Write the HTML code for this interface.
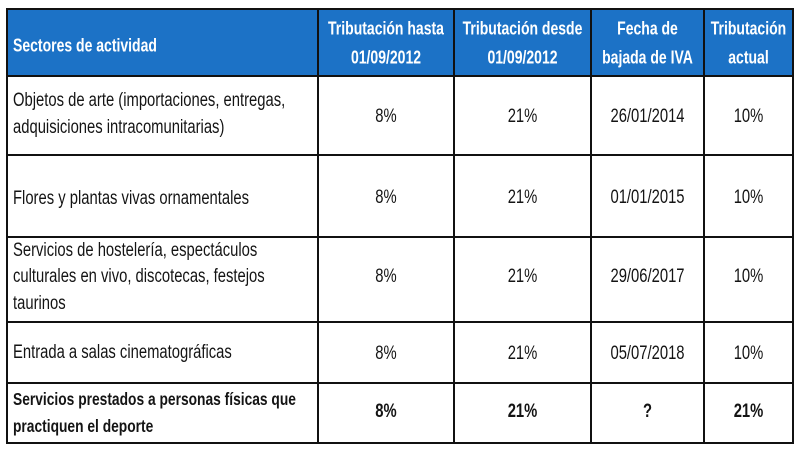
<!DOCTYPE html>
<html>
<head>
<meta charset="utf-8">
<style>
  html, body { margin:0; padding:0; }
  body { width:800px; height:450px; position:relative; background:#fff; overflow:hidden;
         font-family:"Liberation Sans", Arial, sans-serif; }
  svg { position:absolute; left:0; top:0; }
  .t { position:absolute; white-space:nowrap; height:20px; line-height:20px;
       transform:scaleY(1.3); transform-origin:center center; color:#141414; font-size:14.8px; }
  .h { color:#fff; font-weight:bold; font-size:14px; }
  .c { text-align:center; }
  .b { font-weight:bold; }
</style>
</head>
<body>
<svg width="800" height="450" viewBox="0 0 800 450">
  <rect x="7" y="9" width="786" height="67" fill="#1c72c6"/>
  <g stroke="#111" stroke-width="2" fill="none" stroke-linecap="square">
    <rect x="7" y="9" width="786" height="434"/>
    <line x1="7" y1="76" x2="793" y2="76"/>
    <line x1="7" y1="155" x2="793" y2="155"/>
    <line x1="7" y1="237" x2="793" y2="237"/>
    <line x1="7" y1="322" x2="793" y2="322"/>
    <line x1="7" y1="383" x2="793" y2="383"/>
    <line x1="318" y1="9" x2="318" y2="443"/>
    <line x1="454" y1="9" x2="454" y2="443"/>
    <line x1="591" y1="9" x2="591" y2="443"/>
    <line x1="704" y1="9" x2="704" y2="443"/>
  </g>
</svg>

<!-- Header -->
<div class="t h" style="left:13px; top:35px;">Sectores de actividad</div>
<div class="t h c" style="left:318px; width:136px; top:18px;">Tributación hasta</div>
<div class="t h c" style="left:318px; width:136px; top:47px;">01/09/2012</div>
<div class="t h c" style="left:454px; width:137px; top:18px;">Tributación desde</div>
<div class="t h c" style="left:454px; width:137px; top:47px;">01/09/2012</div>
<div class="t h c" style="left:591px; width:113px; top:18px;">Fecha de</div>
<div class="t h c" style="left:591px; width:113px; top:47px;">bajada de IVA</div>
<div class="t h c" style="left:704px; width:89px; top:18px;">Tributación</div>
<div class="t h c" style="left:704px; width:89px; top:47px;">actual</div>

<!-- Row 1 -->
<div class="t" style="left:13px; top:91px;">Objetos de arte (importaciones, entregas,</div>
<div class="t" style="left:13px; top:118px;">adquisiciones intracomunitarias)</div>
<div class="t c" style="left:318px; width:136px; top:107px;">8%</div>
<div class="t c" style="left:454px; width:137px; top:107px;">21%</div>
<div class="t c" style="left:591px; width:113px; top:107px;">26/01/2014</div>
<div class="t c" style="left:704px; width:89px; top:107px;">10%</div>

<!-- Row 2 -->
<div class="t" style="left:13px; top:189px;">Flores y plantas vivas ornamentales</div>
<div class="t c" style="left:318px; width:136px; top:188px;">8%</div>
<div class="t c" style="left:454px; width:137px; top:188px;">21%</div>
<div class="t c" style="left:591px; width:113px; top:188px;">01/01/2015</div>
<div class="t c" style="left:704px; width:89px; top:188px;">10%</div>

<!-- Row 3 -->
<div class="t" style="left:13px; top:241px;">Servicios de hostelería, espectáculos</div>
<div class="t" style="left:13px; top:267px;">culturales en vivo, discotecas, festejos</div>
<div class="t" style="left:13px; top:294px;">taurinos</div>
<div class="t c" style="left:318px; width:136px; top:267px;">8%</div>
<div class="t c" style="left:454px; width:137px; top:267px;">21%</div>
<div class="t c" style="left:591px; width:113px; top:267px;">29/06/2017</div>
<div class="t c" style="left:704px; width:89px; top:267px;">10%</div>

<!-- Row 4 -->
<div class="t" style="left:13px; top:343px;">Entrada a salas cinematográficas</div>
<div class="t c" style="left:318px; width:136px; top:344px;">8%</div>
<div class="t c" style="left:454px; width:137px; top:344px;">21%</div>
<div class="t c" style="left:591px; width:113px; top:344px;">05/07/2018</div>
<div class="t c" style="left:704px; width:89px; top:344px;">10%</div>

<!-- Row 5 -->
<div class="t b" style="left:13px; top:390px; font-size:13.8px;">Servicios prestados a personas físicas que</div>
<div class="t b" style="left:13px; top:417px; font-size:13.8px;">practiquen el deporte</div>
<div class="t c b" style="left:318px; width:136px; top:402px;">8%</div>
<div class="t c b" style="left:454px; width:137px; top:402px;">21%</div>
<div class="t c b" style="left:591px; width:113px; top:402px;">?</div>
<div class="t c b" style="left:704px; width:89px; top:402px;">21%</div>
</body>
</html>
